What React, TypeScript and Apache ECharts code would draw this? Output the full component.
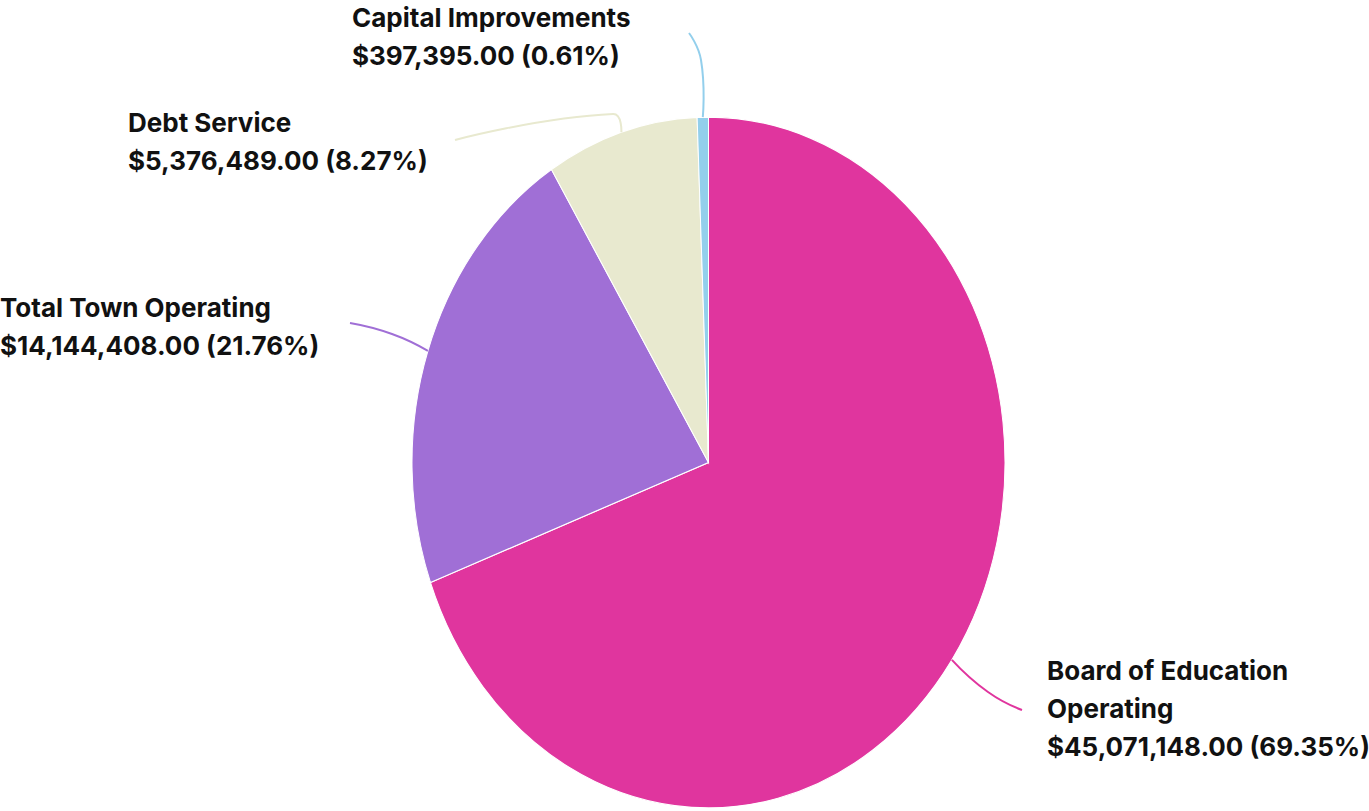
import React, { useEffect, useRef } from "react";
import * as echarts from "echarts";

const categories = ["Board of Education\nOperating", "Total Town Operating", "Debt Service", "Capital Improvements"];
const values = [45071148, 14144408, 5376489, 397395];
const colors = ["#E0359E", "#A06FD6", "#E8E9CF", "#93CFEC"];

// label layout (page pixels)
const leaderBend = [[988, 692], [392, 334], [613, 114], [701, 60]];
const leaderEnd = [[1022, 710], [350, 323], [455, 140], [689, 33]];
const labelAnchor = [[1047, 708], [0, 326], [128, 141], [352, 36]];

const CENTER = [708.5, 462.5];
const RX = 296.5;
const RY = 345.5;

function fmtMoney(v: number) {
  return "$" + v.toLocaleString("en-US", { minimumFractionDigits: 2, maximumFractionDigits: 2 });
}

export default function App() {
  const ref = useRef<HTMLDivElement>(null);
  useEffect(() => {
    if (!ref.current) return;
    const chart = echarts.init(ref.current, null, { renderer: "svg" });
    const total = values.reduce((a, b) => a + b, 0);
    const cum: number[] = [];
    let acc = 0;
    values.forEach((v) => {
      cum.push(acc);
      acc += v;
    });

    chart.setOption({
      animation: false,
      backgroundColor: "#ffffff",
      series: [
        {
          type: "custom",
          coordinateSystem: "none",
          data: values.map((v, i) => ({ value: v, name: categories[i] })),
          renderItem: (params: any, api: any) => {
            const i = params.dataIndex;
            const v = api.value(0);
            const a0 = (cum[i] / total) * Math.PI * 2;
            const a1 = ((cum[i] + v) / total) * Math.PI * 2;
            const mid = (a0 + a1) / 2;
            const ex = CENTER[0] + RX * Math.sin(mid);
            const ey = CENTER[1] - RY * Math.cos(mid);
            const pct = ((v / total) * 100).toFixed(2);
            const text = categories[i] + "\n" + fmtMoney(v) + " (" + pct + "%)";
            return {
              type: "group",
              children: [
                {
                  type: "sector",
                  x: CENTER[0],
                  y: CENTER[1],
                  scaleY: RY / RX,
                  shape: {
                    cx: 0,
                    cy: 0,
                    r0: 0,
                    r: RX,
                    startAngle: a0 - Math.PI / 2,
                    endAngle: a1 - Math.PI / 2,
                    clockwise: true,
                  },
                  style: { fill: colors[i], stroke: "#ffffff", lineWidth: 1, strokeNoScale: true },
                },
                {
                  type: "polyline",
                  shape: {
                    points: [[ex, ey], leaderBend[i], leaderEnd[i]],
                    smooth: 0.5,
                  },
                  style: { fill: "none", stroke: colors[i], lineWidth: 2 },
                },
                {
                  type: "text",
                  x: labelAnchor[i][0],
                  y: labelAnchor[i][1],
                  style: {
                    text,
                    fill: "#111111",
                    font: "bold 26px Inter",
                    fontSize: 26,
                    fontWeight: "bold",
                    fontFamily: "Inter",
                    lineHeight: 38,
                    align: "left",
                    verticalAlign: "middle",
                    textAlign: "left",
                    textVerticalAlign: "middle",
                  },
                },
              ],
            };
          },
        },
      ],
    });
    return () => chart.dispose();
  }, []);
  return (
    <div
      ref={ref}
      style={{ position: "fixed", left: 0, top: 0, width: 1369, height: 811 }}
    />
  );
}
